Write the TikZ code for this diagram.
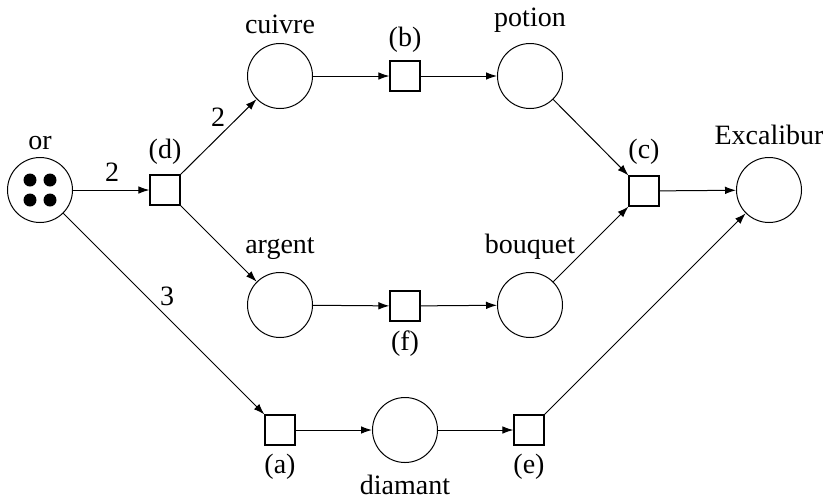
\documentclass[tikz,border=0pt]{standalone}
\usepackage{fontspec}
\setmainfont{Liberation Serif}
\newfontfamily\tnrfont{Liberation Serif}
\usetikzlibrary{arrows.meta}
\begin{document}
\begin{tikzpicture}[x=0.5pt,y=-0.5pt,
  place/.style={draw,circle,minimum size=32.5pt,inner sep=0pt,line width=0.5pt},
  trans/.style={draw,rectangle,minimum size=15pt,inner sep=0pt,line width=0.6pt},
  lbl/.style={inner sep=0pt,font=\tnrfont\fontsize{14}{16}\selectfont},
  arc/.style={-{Latex[length=5.5pt,width=3.8pt]},line width=0.5pt},
  tok/.style={fill=black,circle,inner sep=0pt,minimum size=6.5pt}]
\useasboundingbox (0,0) rectangle (823,499);
% places
\node[place] (or) at (40,190) {};
\node[place] (cuivre) at (280,76) {};
\node[place] (potion) at (530,76) {};
\node[place] (argent) at (280,305) {};
\node[place] (bouquet) at (530,305) {};
\node[place] (diamant) at (405,430) {};
\node[place] (excal) at (769,190) {};
% tokens
\node[tok] (t1) at (30,180) {};
\node[tok] (t2) at (50,180) {};
\node[tok] (t3) at (30,200) {};
\node[tok] (t4) at (50,200) {};
% transitions
\node[trans] (d) at (165,190) {};
\node[trans] (b) at (405,76) {};
\node[trans] (c) at (644,191) {};
\node[trans] (f) at (405,306) {};
\node[trans] (a) at (280,430) {};
\node[trans] (e) at (529,430) {};
% labels
\node[lbl] (lor) at (40,143) {or};
\node[lbl] (lcuivre) at (280,24) {cuivre};
\node[lbl] (lpotion) at (530,20) {potion};
\node[lbl] (largent) at (280,249) {argent};
\node[lbl] (lbouquet) at (530,247) {bouquet};
\node[lbl] (ldiamant) at (405,485) {diamant};
\node[lbl] (lexcal) at (769,135) {Excalibur};
\node[lbl] (ld) at (165,152) {(d)};
\node[lbl] (lb) at (405,40) {(b)};
\node[lbl] (lc) at (644,152) {(c)};
\node[lbl] (lf) at (405,344) {(f)};
\node[lbl] (la) at (280,467) {(a)};
\node[lbl] (le) at (529,467) {(e)};
\node[lbl] (w1) at (112,172) {2};
\node[lbl] (w2) at (218,117) {2};
\node[lbl] (w3) at (167,296) {3};
% arcs
\draw[arc] (or) -- (d);
\draw[arc] (d.north east) -- (cuivre);
\draw[arc] (d.south east) -- (argent);
\draw[arc] (cuivre) -- (b);
\draw[arc] (b) -- (potion);
\draw[arc] (potion) -- (c.north west);
\draw[arc] (argent) -- (f);
\draw[arc] (f) -- (bouquet);
\draw[arc] (bouquet) -- (c.south west);
\draw[arc] (c) -- (excal);
\draw[arc] (or) -- (a.north west);
\draw[arc] (a) -- (diamant);
\draw[arc] (diamant) -- (e);
\draw[arc] (e.north east) -- (excal);
\end{tikzpicture}
\end{document}
